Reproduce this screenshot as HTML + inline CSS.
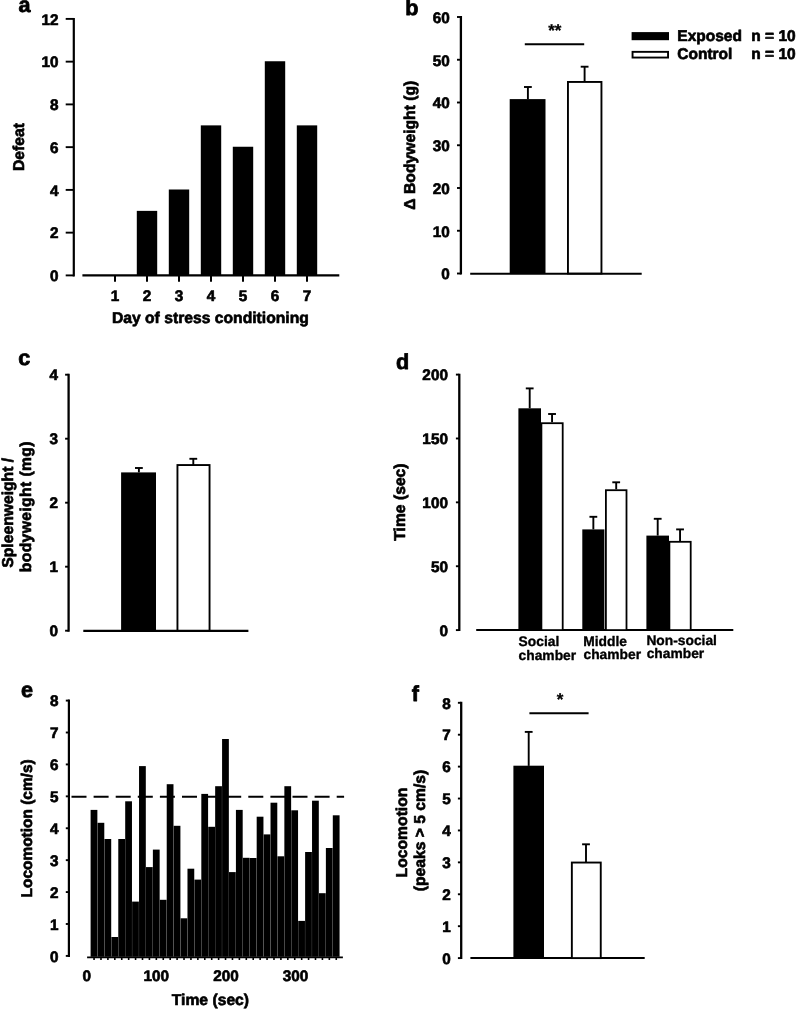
<!DOCTYPE html>
<html lang="en"><head><meta charset="utf-8"><title>Figure</title>
<style>
html,body{margin:0;padding:0;background:#fff;}
svg{display:block;will-change:transform;}
text{font-family:"Liberation Sans",Arial,Helvetica,sans-serif;font-weight:bold;fill:#000;stroke:#000;stroke-width:0.65px;stroke-linejoin:round;text-rendering:geometricPrecision;}
</style></head><body>
<svg width="797" height="1010" viewBox="0 0 797 1010">
<rect width="797" height="1010" fill="#fff"/>
<line x1="73.8" y1="17.9" x2="73.8" y2="276.4" stroke="#000" stroke-width="2.2" />
<line x1="65.7" y1="275.4" x2="73.8" y2="275.4" stroke="#000" stroke-width="1.9" />
<text transform="translate(58.4 281.15) scale(1.0 1.0)" font-size="15.3" text-anchor="end" >0</text>
<line x1="65.7" y1="232.65" x2="73.8" y2="232.65" stroke="#000" stroke-width="1.9" />
<text transform="translate(58.4 238.4) scale(1.0 1.0)" font-size="15.3" text-anchor="end" >2</text>
<line x1="65.7" y1="189.9" x2="73.8" y2="189.9" stroke="#000" stroke-width="1.9" />
<text transform="translate(58.4 195.65) scale(1.0 1.0)" font-size="15.3" text-anchor="end" >4</text>
<line x1="65.7" y1="147.15" x2="73.8" y2="147.15" stroke="#000" stroke-width="1.9" />
<text transform="translate(58.4 152.9) scale(1.0 1.0)" font-size="15.3" text-anchor="end" >6</text>
<line x1="65.7" y1="104.4" x2="73.8" y2="104.4" stroke="#000" stroke-width="1.9" />
<text transform="translate(58.4 110.15) scale(1.0 1.0)" font-size="15.3" text-anchor="end" >8</text>
<line x1="65.7" y1="61.65" x2="73.8" y2="61.65" stroke="#000" stroke-width="1.9" />
<text transform="translate(58.4 67.4) scale(1.0 1.0)" font-size="15.3" text-anchor="end" >10</text>
<line x1="65.7" y1="18.9" x2="73.8" y2="18.9" stroke="#000" stroke-width="1.9" />
<text transform="translate(58.4 24.65) scale(1.0 1.0)" font-size="15.3" text-anchor="end" >12</text>
<line x1="82.4" y1="275.4" x2="339.3" y2="275.4" stroke="#000" stroke-width="2.2" />
<line x1="115" y1="275.4" x2="115" y2="281.7" stroke="#000" stroke-width="2" />
<line x1="147" y1="275.4" x2="147" y2="281.7" stroke="#000" stroke-width="2" />
<rect x="136.8" y="210.87" width="20.4" height="64.53" fill="#000"/>
<line x1="179" y1="275.4" x2="179" y2="281.7" stroke="#000" stroke-width="2" />
<rect x="168.8" y="189.5" width="20.4" height="85.9" fill="#000"/>
<line x1="211" y1="275.4" x2="211" y2="281.7" stroke="#000" stroke-width="2" />
<rect x="200.8" y="125.37" width="20.4" height="150.03" fill="#000"/>
<line x1="243" y1="275.4" x2="243" y2="281.7" stroke="#000" stroke-width="2" />
<rect x="232.8" y="146.75" width="20.4" height="128.65" fill="#000"/>
<line x1="275" y1="275.4" x2="275" y2="281.7" stroke="#000" stroke-width="2" />
<rect x="264.8" y="61.25" width="20.4" height="214.15" fill="#000"/>
<line x1="307" y1="275.4" x2="307" y2="281.7" stroke="#000" stroke-width="2" />
<rect x="296.8" y="125.37" width="20.4" height="150.03" fill="#000"/>
<text transform="translate(115 300.5) scale(1.0 1.0)" font-size="15.3" text-anchor="middle" >1</text>
<text transform="translate(147 300.5) scale(1.0 1.0)" font-size="15.3" text-anchor="middle" >2</text>
<text transform="translate(179 300.5) scale(1.0 1.0)" font-size="15.3" text-anchor="middle" >3</text>
<text transform="translate(211 300.5) scale(1.0 1.0)" font-size="15.3" text-anchor="middle" >4</text>
<text transform="translate(243 300.5) scale(1.0 1.0)" font-size="15.3" text-anchor="middle" >5</text>
<text transform="translate(275 300.5) scale(1.0 1.0)" font-size="15.3" text-anchor="middle" >6</text>
<text transform="translate(307 300.5) scale(1.0 1.0)" font-size="15.3" text-anchor="middle" >7</text>
<text transform="translate(210.4 323.3) scale(1 1.0)" font-size="15.7" text-anchor="middle" >Day of stress conditioning</text>
<text transform="translate(23.6 147) rotate(-90) scale(1 1.0)" font-size="15.7" text-anchor="middle" >Defeat</text>
<text transform="translate(18.4 11.5) scale(1 1.0)" font-size="21.6" text-anchor="start" style="stroke-width:0.8px">a</text>
<line x1="460.9" y1="16.05" x2="460.9" y2="274.45" stroke="#000" stroke-width="2.3" />
<line x1="457" y1="273.5" x2="460.9" y2="273.5" stroke="#000" stroke-width="1.9" />
<text transform="translate(449.7 279.25) scale(1.0 1.0)" font-size="15.3" text-anchor="end" >0</text>
<line x1="457" y1="230.75" x2="460.9" y2="230.75" stroke="#000" stroke-width="1.9" />
<text transform="translate(449.7 236.5) scale(1.0 1.0)" font-size="15.3" text-anchor="end" >10</text>
<line x1="457" y1="188.0" x2="460.9" y2="188.0" stroke="#000" stroke-width="1.9" />
<text transform="translate(449.7 193.75) scale(1.0 1.0)" font-size="15.3" text-anchor="end" >20</text>
<line x1="457" y1="145.25" x2="460.9" y2="145.25" stroke="#000" stroke-width="1.9" />
<text transform="translate(449.7 151.0) scale(1.0 1.0)" font-size="15.3" text-anchor="end" >30</text>
<line x1="457" y1="102.5" x2="460.9" y2="102.5" stroke="#000" stroke-width="1.9" />
<text transform="translate(449.7 108.25) scale(1.0 1.0)" font-size="15.3" text-anchor="end" >40</text>
<line x1="457" y1="59.75" x2="460.9" y2="59.75" stroke="#000" stroke-width="1.9" />
<text transform="translate(449.7 65.5) scale(1.0 1.0)" font-size="15.3" text-anchor="end" >50</text>
<line x1="457" y1="17.0" x2="460.9" y2="17.0" stroke="#000" stroke-width="1.9" />
<text transform="translate(449.7 22.75) scale(1.0 1.0)" font-size="15.3" text-anchor="end" >60</text>
<line x1="470.2" y1="273.7" x2="641.7" y2="273.7" stroke="#000" stroke-width="2.1" />
<rect x="509.7" y="99.1" width="35.8" height="174.4" fill="#000"/>
<rect x="567.95" y="81.95" width="33.5" height="191.55" fill="#fff" stroke="#000" stroke-width="1.9"/>
<line x1="527.9" y1="87" x2="527.9" y2="99.1" stroke="#000" stroke-width="1.9" />
<line x1="524.0" y1="87" x2="531.8" y2="87" stroke="#000" stroke-width="1.9" />
<line x1="584.6" y1="66.7" x2="584.6" y2="82" stroke="#000" stroke-width="1.9" />
<line x1="580.7" y1="66.7" x2="588.5" y2="66.7" stroke="#000" stroke-width="1.9" />
<line x1="524.8" y1="44.2" x2="584.2" y2="44.2" stroke="#000" stroke-width="2.1" />
<text transform="translate(554.8 36.2) scale(1 1.0)" font-size="17" text-anchor="middle" style="stroke-width:0.3px">**</text>
<text transform="translate(414.8 145.2) rotate(-90) scale(1 1.0)" font-size="15.7" text-anchor="middle" >&#916; Bodyweight (g)</text>
<text transform="translate(405.2 15.2) scale(1 1.0)" font-size="21.6" text-anchor="start" style="stroke-width:0.8px">b</text>
<rect x="631.6" y="32.1" width="37.4" height="8.1" fill="#000"/>
<rect x="632.55" y="51.85" width="35.5" height="5.7" fill="#fff" stroke="#000" stroke-width="1.9"/>
<text transform="translate(677.3 40.9) scale(1 1.0)" font-size="15.5" text-anchor="start" >Exposed</text>
<text transform="translate(677.3 59.2) scale(1 1.0)" font-size="15.5" text-anchor="start" >Control</text>
<text transform="translate(751.3 40.9) scale(1 1.0)" font-size="15.5" text-anchor="start" >n = 10</text>
<text transform="translate(751.3 59.2) scale(1 1.0)" font-size="15.5" text-anchor="start" >n = 10</text>
<line x1="68.6" y1="373.75" x2="68.6" y2="631.65" stroke="#000" stroke-width="2.3" />
<line x1="65.1" y1="630.7" x2="68.6" y2="630.7" stroke="#000" stroke-width="1.9" />
<text transform="translate(57.9 636.3) scale(1.0 1.0)" font-size="15.3" text-anchor="end" >0</text>
<line x1="65.1" y1="566.7" x2="68.6" y2="566.7" stroke="#000" stroke-width="1.9" />
<text transform="translate(57.9 572.3) scale(1.0 1.0)" font-size="15.3" text-anchor="end" >1</text>
<line x1="65.1" y1="502.7" x2="68.6" y2="502.7" stroke="#000" stroke-width="1.9" />
<text transform="translate(57.9 508.3) scale(1.0 1.0)" font-size="15.3" text-anchor="end" >2</text>
<line x1="65.1" y1="438.7" x2="68.6" y2="438.7" stroke="#000" stroke-width="1.9" />
<text transform="translate(57.9 444.3) scale(1.0 1.0)" font-size="15.3" text-anchor="end" >3</text>
<line x1="65.1" y1="374.7" x2="68.6" y2="374.7" stroke="#000" stroke-width="1.9" />
<text transform="translate(57.9 380.3) scale(1.0 1.0)" font-size="15.3" text-anchor="end" >4</text>
<line x1="83.3" y1="630.9" x2="248.4" y2="630.9" stroke="#000" stroke-width="2.1" />
<rect x="121.1" y="472.4" width="34.9" height="158.3" fill="#000"/>
<rect x="177.45" y="465.05" width="32.1" height="165.65" fill="#fff" stroke="#000" stroke-width="1.9"/>
<line x1="138.9" y1="468" x2="138.9" y2="472.4" stroke="#000" stroke-width="1.9" />
<line x1="135.0" y1="468" x2="142.8" y2="468" stroke="#000" stroke-width="1.9" />
<line x1="193.3" y1="458.8" x2="193.3" y2="465" stroke="#000" stroke-width="1.9" />
<line x1="189.4" y1="458.8" x2="197.2" y2="458.8" stroke="#000" stroke-width="1.9" />
<text transform="translate(12.7 512.8) rotate(-90) scale(1 1.0)" font-size="15.7" text-anchor="middle" >Spleenweight /</text>
<text transform="translate(31.2 506.7) rotate(-90) scale(1 1.0)" font-size="15.7" text-anchor="middle" letter-spacing="0.38">bodyweight (mg)</text>
<text transform="translate(18.2 364.8) scale(1 1.0)" font-size="21.6" text-anchor="start" style="stroke-width:0.8px">c</text>
<line x1="459.3" y1="373.65" x2="459.3" y2="631.05" stroke="#000" stroke-width="2.3" />
<line x1="455.9" y1="630.1" x2="459.3" y2="630.1" stroke="#000" stroke-width="1.9" />
<text transform="translate(447.9 635.85) scale(1.0 1.0)" font-size="15.3" text-anchor="end" >0</text>
<line x1="455.9" y1="566.23" x2="459.3" y2="566.23" stroke="#000" stroke-width="1.9" />
<text transform="translate(447.9 571.98) scale(1.0 1.0)" font-size="15.3" text-anchor="end" >50</text>
<line x1="455.9" y1="502.35" x2="459.3" y2="502.35" stroke="#000" stroke-width="1.9" />
<text transform="translate(447.9 508.1) scale(1.0 1.0)" font-size="15.3" text-anchor="end" >100</text>
<line x1="455.9" y1="438.48" x2="459.3" y2="438.48" stroke="#000" stroke-width="1.9" />
<text transform="translate(447.9 444.23) scale(1.0 1.0)" font-size="15.3" text-anchor="end" >150</text>
<line x1="455.9" y1="374.6" x2="459.3" y2="374.6" stroke="#000" stroke-width="1.9" />
<text transform="translate(447.9 380.35) scale(1.0 1.0)" font-size="15.3" text-anchor="end" >200</text>
<line x1="476.2" y1="630.1" x2="733.3" y2="630.1" stroke="#000" stroke-width="2.0" />
<rect x="518.4" y="408.3" width="22.6" height="221.8" fill="#000"/>
<rect x="541.4" y="423.2" width="21.3" height="206.9" fill="#fff" stroke="#000" stroke-width="1.8"/>
<line x1="529.7" y1="388.4" x2="529.7" y2="408.3" stroke="#000" stroke-width="1.9" />
<line x1="525.8" y1="388.4" x2="533.6" y2="388.4" stroke="#000" stroke-width="1.9" />
<line x1="552.05" y1="414" x2="552.05" y2="422.3" stroke="#000" stroke-width="1.9" />
<line x1="548.15" y1="414" x2="555.95" y2="414" stroke="#000" stroke-width="1.9" />
<rect x="582.3" y="529.4" width="22.1" height="100.7" fill="#000"/>
<rect x="605.9" y="490.2" width="20.6" height="139.9" fill="#fff" stroke="#000" stroke-width="1.8"/>
<line x1="593.35" y1="516.8" x2="593.35" y2="529.4" stroke="#000" stroke-width="1.9" />
<line x1="589.45" y1="516.8" x2="597.25" y2="516.8" stroke="#000" stroke-width="1.9" />
<line x1="616.2" y1="482.3" x2="616.2" y2="489.3" stroke="#000" stroke-width="1.9" />
<line x1="612.3" y1="482.3" x2="620.1" y2="482.3" stroke="#000" stroke-width="1.9" />
<rect x="646.4" y="535.6" width="22.6" height="94.5" fill="#000"/>
<rect x="669.4" y="541.8" width="21.3" height="88.3" fill="#fff" stroke="#000" stroke-width="1.8"/>
<line x1="657.7" y1="518.8" x2="657.7" y2="535.6" stroke="#000" stroke-width="1.9" />
<line x1="653.8" y1="518.8" x2="661.6" y2="518.8" stroke="#000" stroke-width="1.9" />
<line x1="680.05" y1="529.4" x2="680.05" y2="540.9" stroke="#000" stroke-width="1.9" />
<line x1="676.15" y1="529.4" x2="683.95" y2="529.4" stroke="#000" stroke-width="1.9" />
<text transform="translate(518.6 646.4) scale(1 1.0)" font-size="13.8" text-anchor="start" style="stroke-width:0.35px">Social</text>
<text transform="translate(518.6 659.6) scale(1 1.0)" font-size="13.8" text-anchor="start" style="stroke-width:0.35px">chamber</text>
<text transform="translate(583.2 645.6) scale(1 1.0)" font-size="13.8" text-anchor="start" style="stroke-width:0.35px">Middle</text>
<text transform="translate(583.5 658.8) scale(1 1.0)" font-size="13.8" text-anchor="start" style="stroke-width:0.35px">chamber</text>
<text transform="translate(646.4 644.8) scale(1 1.0)" font-size="13.8" text-anchor="start" style="stroke-width:0.35px">Non-social</text>
<text transform="translate(646.7 658.0) scale(1 1.0)" font-size="13.8" text-anchor="start" style="stroke-width:0.35px">chamber</text>
<text transform="translate(404.8 502.1) rotate(-90) scale(1 1.0)" font-size="15.7" text-anchor="middle" >Time (sec)</text>
<text transform="translate(396.1 368.7) scale(1 1.0)" font-size="21.6" text-anchor="start" style="stroke-width:0.8px">d</text>
<line x1="68.9" y1="699.6" x2="68.9" y2="956.9" stroke="#000" stroke-width="2.2" />
<line x1="65.8" y1="955.9" x2="68.9" y2="955.9" stroke="#000" stroke-width="1.9" />
<text transform="translate(58.5 961.65) scale(1.0 1.0)" font-size="15.3" text-anchor="end" >0</text>
<line x1="65.8" y1="923.99" x2="68.9" y2="923.99" stroke="#000" stroke-width="1.9" />
<text transform="translate(58.5 929.74) scale(1.0 1.0)" font-size="15.3" text-anchor="end" >1</text>
<line x1="65.8" y1="892.08" x2="68.9" y2="892.08" stroke="#000" stroke-width="1.9" />
<text transform="translate(58.5 897.83) scale(1.0 1.0)" font-size="15.3" text-anchor="end" >2</text>
<line x1="65.8" y1="860.16" x2="68.9" y2="860.16" stroke="#000" stroke-width="1.9" />
<text transform="translate(58.5 865.91) scale(1.0 1.0)" font-size="15.3" text-anchor="end" >3</text>
<line x1="65.8" y1="828.25" x2="68.9" y2="828.25" stroke="#000" stroke-width="1.9" />
<text transform="translate(58.5 834.0) scale(1.0 1.0)" font-size="15.3" text-anchor="end" >4</text>
<line x1="65.8" y1="796.34" x2="68.9" y2="796.34" stroke="#000" stroke-width="1.9" />
<text transform="translate(58.5 802.09) scale(1.0 1.0)" font-size="15.3" text-anchor="end" >5</text>
<line x1="65.8" y1="764.42" x2="68.9" y2="764.42" stroke="#000" stroke-width="1.9" />
<text transform="translate(58.5 770.17) scale(1.0 1.0)" font-size="15.3" text-anchor="end" >6</text>
<line x1="65.8" y1="732.51" x2="68.9" y2="732.51" stroke="#000" stroke-width="1.9" />
<text transform="translate(58.5 738.26) scale(1.0 1.0)" font-size="15.3" text-anchor="end" >7</text>
<line x1="65.8" y1="700.6" x2="68.9" y2="700.6" stroke="#000" stroke-width="1.9" />
<text transform="translate(58.5 706.35) scale(1.0 1.0)" font-size="15.3" text-anchor="end" >8</text>
<rect x="90.6" y="809.9" width="6.77" height="146.9" fill="#000"/>
<line x1="94.06" y1="957.4" x2="94.06" y2="960" stroke="#000" stroke-width="1.6" />
<rect x="97.52" y="822.8" width="6.77" height="134.0" fill="#000"/>
<line x1="100.98" y1="957.4" x2="100.98" y2="960" stroke="#000" stroke-width="1.6" />
<rect x="104.44" y="839" width="6.77" height="117.8" fill="#000"/>
<line x1="107.9" y1="957.4" x2="107.9" y2="960" stroke="#000" stroke-width="1.6" />
<rect x="111.36" y="937" width="6.77" height="19.8" fill="#000"/>
<line x1="114.82" y1="957.4" x2="114.82" y2="960" stroke="#000" stroke-width="1.6" />
<rect x="118.28" y="839" width="6.77" height="117.8" fill="#000"/>
<line x1="121.74" y1="957.4" x2="121.74" y2="960" stroke="#000" stroke-width="1.6" />
<rect x="125.2" y="801.3" width="6.77" height="155.5" fill="#000"/>
<line x1="128.66" y1="957.4" x2="128.66" y2="960" stroke="#000" stroke-width="1.6" />
<rect x="132.12" y="901.6" width="6.77" height="55.2" fill="#000"/>
<line x1="135.58" y1="957.4" x2="135.58" y2="960" stroke="#000" stroke-width="1.6" />
<rect x="139.04" y="766.1" width="6.77" height="190.7" fill="#000"/>
<line x1="142.5" y1="957.4" x2="142.5" y2="960" stroke="#000" stroke-width="1.6" />
<rect x="145.96" y="867.1" width="6.77" height="89.7" fill="#000"/>
<line x1="149.42" y1="957.4" x2="149.42" y2="960" stroke="#000" stroke-width="1.6" />
<rect x="152.88" y="849.6" width="6.77" height="107.2" fill="#000"/>
<line x1="156.34" y1="957.4" x2="156.34" y2="960" stroke="#000" stroke-width="1.6" />
<rect x="159.8" y="899.8" width="6.77" height="57.0" fill="#000"/>
<line x1="163.26" y1="957.4" x2="163.26" y2="960" stroke="#000" stroke-width="1.6" />
<rect x="166.72" y="784.2" width="6.77" height="172.6" fill="#000"/>
<line x1="170.18" y1="957.4" x2="170.18" y2="960" stroke="#000" stroke-width="1.6" />
<rect x="173.64" y="825.8" width="6.77" height="131.0" fill="#000"/>
<line x1="177.1" y1="957.4" x2="177.1" y2="960" stroke="#000" stroke-width="1.6" />
<rect x="180.56" y="918.3" width="6.77" height="38.5" fill="#000"/>
<line x1="184.02" y1="957.4" x2="184.02" y2="960" stroke="#000" stroke-width="1.6" />
<rect x="187.48" y="868.7" width="6.77" height="88.1" fill="#000"/>
<line x1="190.94" y1="957.4" x2="190.94" y2="960" stroke="#000" stroke-width="1.6" />
<rect x="194.4" y="879.6" width="6.77" height="77.2" fill="#000"/>
<line x1="197.86" y1="957.4" x2="197.86" y2="960" stroke="#000" stroke-width="1.6" />
<rect x="201.32" y="793.9" width="6.77" height="162.9" fill="#000"/>
<line x1="204.78" y1="957.4" x2="204.78" y2="960" stroke="#000" stroke-width="1.6" />
<rect x="208.24" y="826.8" width="6.77" height="130.0" fill="#000"/>
<line x1="211.7" y1="957.4" x2="211.7" y2="960" stroke="#000" stroke-width="1.6" />
<rect x="215.16" y="786.2" width="6.77" height="170.6" fill="#000"/>
<line x1="218.62" y1="957.4" x2="218.62" y2="960" stroke="#000" stroke-width="1.6" />
<rect x="222.08" y="739" width="6.77" height="217.8" fill="#000"/>
<line x1="225.54" y1="957.4" x2="225.54" y2="960" stroke="#000" stroke-width="1.6" />
<rect x="229.0" y="872.1" width="6.77" height="84.7" fill="#000"/>
<line x1="232.46" y1="957.4" x2="232.46" y2="960" stroke="#000" stroke-width="1.6" />
<rect x="235.92" y="809.9" width="6.77" height="146.9" fill="#000"/>
<line x1="239.38" y1="957.4" x2="239.38" y2="960" stroke="#000" stroke-width="1.6" />
<rect x="242.84" y="857.8" width="6.77" height="99.0" fill="#000"/>
<line x1="246.3" y1="957.4" x2="246.3" y2="960" stroke="#000" stroke-width="1.6" />
<rect x="249.76" y="858" width="6.77" height="98.8" fill="#000"/>
<line x1="253.22" y1="957.4" x2="253.22" y2="960" stroke="#000" stroke-width="1.6" />
<rect x="256.68" y="816.7" width="6.77" height="140.1" fill="#000"/>
<line x1="260.14" y1="957.4" x2="260.14" y2="960" stroke="#000" stroke-width="1.6" />
<rect x="263.6" y="834.4" width="6.77" height="122.4" fill="#000"/>
<line x1="267.06" y1="957.4" x2="267.06" y2="960" stroke="#000" stroke-width="1.6" />
<rect x="270.52" y="802.7" width="6.77" height="154.1" fill="#000"/>
<line x1="273.98" y1="957.4" x2="273.98" y2="960" stroke="#000" stroke-width="1.6" />
<rect x="277.44" y="856.3" width="6.77" height="100.5" fill="#000"/>
<line x1="280.9" y1="957.4" x2="280.9" y2="960" stroke="#000" stroke-width="1.6" />
<rect x="284.36" y="786.2" width="6.77" height="170.6" fill="#000"/>
<line x1="287.82" y1="957.4" x2="287.82" y2="960" stroke="#000" stroke-width="1.6" />
<rect x="291.28" y="810.3" width="6.77" height="146.5" fill="#000"/>
<line x1="294.74" y1="957.4" x2="294.74" y2="960" stroke="#000" stroke-width="1.6" />
<rect x="298.2" y="920.9" width="6.77" height="35.9" fill="#000"/>
<line x1="301.66" y1="957.4" x2="301.66" y2="960" stroke="#000" stroke-width="1.6" />
<rect x="305.12" y="852" width="6.77" height="104.8" fill="#000"/>
<line x1="308.58" y1="957.4" x2="308.58" y2="960" stroke="#000" stroke-width="1.6" />
<rect x="312.04" y="800.7" width="6.77" height="156.1" fill="#000"/>
<line x1="315.5" y1="957.4" x2="315.5" y2="960" stroke="#000" stroke-width="1.6" />
<rect x="318.96" y="893.2" width="6.77" height="63.6" fill="#000"/>
<line x1="322.42" y1="957.4" x2="322.42" y2="960" stroke="#000" stroke-width="1.6" />
<rect x="325.88" y="848" width="6.77" height="108.8" fill="#000"/>
<line x1="329.34" y1="957.4" x2="329.34" y2="960" stroke="#000" stroke-width="1.6" />
<rect x="332.8" y="815.3" width="6.77" height="141.5" fill="#000"/>
<line x1="336.26" y1="957.4" x2="336.26" y2="960" stroke="#000" stroke-width="1.6" />
<line x1="87.1" y1="957.4" x2="342.9" y2="957.4" stroke="#000" stroke-width="1.8" />
<line x1="71.5" y1="796.7" x2="344.1" y2="796.7" stroke="#000" stroke-width="2.0" stroke-dasharray="15 7.1"/>
<text transform="translate(86.7 981.0) scale(1.0 1.0)" font-size="15.3" text-anchor="middle" >0</text>
<text transform="translate(156.3 981.0) scale(1.0 1.0)" font-size="15.3" text-anchor="middle" >100</text>
<text transform="translate(225.9 981.0) scale(1.0 1.0)" font-size="15.3" text-anchor="middle" >200</text>
<text transform="translate(295.5 981.0) scale(1.0 1.0)" font-size="15.3" text-anchor="middle" >300</text>
<text transform="translate(210.4 1004.6) scale(1 1.0)" font-size="15.7" text-anchor="middle" >Time (sec)</text>
<text transform="translate(32.0 828.4) rotate(-90) scale(1 1.0)" font-size="15.45" text-anchor="middle" >Locomotion (cm/s)</text>
<text transform="translate(21 697.3) scale(1 1.0)" font-size="21.6" text-anchor="start" style="stroke-width:0.8px">e</text>
<line x1="461.2" y1="701.85" x2="461.2" y2="959.05" stroke="#000" stroke-width="2.3" />
<line x1="457.9" y1="958.1" x2="461.2" y2="958.1" stroke="#000" stroke-width="1.9" />
<text transform="translate(450.8 963.85) scale(1.0 1.0)" font-size="15.3" text-anchor="end" >0</text>
<line x1="457.9" y1="926.19" x2="461.2" y2="926.19" stroke="#000" stroke-width="1.9" />
<text transform="translate(450.8 931.94) scale(1.0 1.0)" font-size="15.3" text-anchor="end" >1</text>
<line x1="457.9" y1="894.27" x2="461.2" y2="894.27" stroke="#000" stroke-width="1.9" />
<text transform="translate(450.8 900.02) scale(1.0 1.0)" font-size="15.3" text-anchor="end" >2</text>
<line x1="457.9" y1="862.36" x2="461.2" y2="862.36" stroke="#000" stroke-width="1.9" />
<text transform="translate(450.8 868.11) scale(1.0 1.0)" font-size="15.3" text-anchor="end" >3</text>
<line x1="457.9" y1="830.45" x2="461.2" y2="830.45" stroke="#000" stroke-width="1.9" />
<text transform="translate(450.8 836.2) scale(1.0 1.0)" font-size="15.3" text-anchor="end" >4</text>
<line x1="457.9" y1="798.54" x2="461.2" y2="798.54" stroke="#000" stroke-width="1.9" />
<text transform="translate(450.8 804.29) scale(1.0 1.0)" font-size="15.3" text-anchor="end" >5</text>
<line x1="457.9" y1="766.62" x2="461.2" y2="766.62" stroke="#000" stroke-width="1.9" />
<text transform="translate(450.8 772.38) scale(1.0 1.0)" font-size="15.3" text-anchor="end" >6</text>
<line x1="457.9" y1="734.71" x2="461.2" y2="734.71" stroke="#000" stroke-width="1.9" />
<text transform="translate(450.8 740.46) scale(1.0 1.0)" font-size="15.3" text-anchor="end" >7</text>
<line x1="457.9" y1="702.8" x2="461.2" y2="702.8" stroke="#000" stroke-width="1.9" />
<text transform="translate(450.8 708.55) scale(1.0 1.0)" font-size="15.3" text-anchor="end" >8</text>
<line x1="470.4" y1="958.1" x2="644.7" y2="958.1" stroke="#000" stroke-width="2.0" />
<rect x="513.4" y="765.7" width="30.6" height="192.4" fill="#000"/>
<rect x="571.85" y="862.55" width="28.9" height="95.55" fill="#fff" stroke="#000" stroke-width="1.9"/>
<line x1="528.7" y1="731.9" x2="528.7" y2="765.9" stroke="#000" stroke-width="1.9" />
<line x1="524.8" y1="731.9" x2="532.6" y2="731.9" stroke="#000" stroke-width="1.9" />
<line x1="586" y1="844.3" x2="586" y2="862.5" stroke="#000" stroke-width="1.9" />
<line x1="582.1" y1="844.3" x2="589.9" y2="844.3" stroke="#000" stroke-width="1.9" />
<line x1="529.4" y1="713.3" x2="588.6" y2="713.3" stroke="#000" stroke-width="2.1" />
<text transform="translate(560 705.3) scale(1 1.0)" font-size="17" text-anchor="middle" style="stroke-width:0.3px">*</text>
<text transform="translate(406.5 832.5) rotate(-90) scale(1 1.0)" font-size="15.7" text-anchor="middle" >Locomotion</text>
<text transform="translate(424.7 830.5) rotate(-90) scale(1 1.0)" font-size="15.7" text-anchor="middle" >(peaks &gt; 5 cm/s)</text>
<text transform="translate(411.7 700.6) scale(1 1.0)" font-size="21.6" text-anchor="start" style="stroke-width:0.8px">f</text>
</svg>
</body></html>
